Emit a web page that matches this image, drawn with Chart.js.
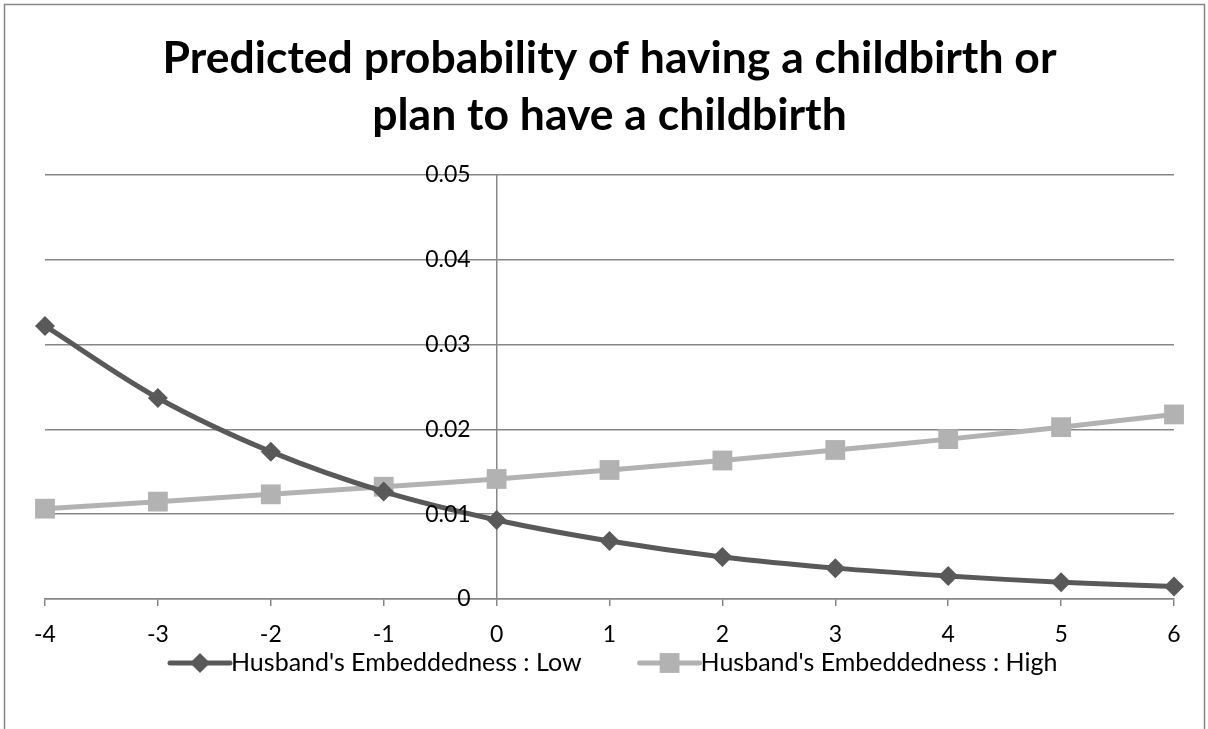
<!DOCTYPE html>
<html>
<head>
<meta charset="utf-8">
<script src="https://cdn.jsdelivr.net/npm/chart.js@4.4.1/dist/chart.umd.min.js"></script>
<style>
  html, body { margin: 0; padding: 0; background: #ffffff; }
  #wrap { width: 1208px; height: 729px; }
</style>
</head>
<body>
<div id="wrap"><canvas id="c" width="1208" height="729"></canvas></div>
<script>
// Predicted probability by centred score (-4 .. 6)
const xValues = [-4, -3, -2, -1, 0, 1, 2, 3, 4, 5, 6];
const xTickLabels = ['-4', '-3', '-2', '-1', '0', '1', '2', '3', '4', '5', '6'];
const yTickLabels = ['0', '0.01', '0.02', '0.03', '0.04', '0.05'];

const lowLabel = "Husband's Embeddedness : Low";
const highLabel = "Husband's Embeddedness : High";

const lowValues  = [0.0322, 0.0237, 0.01737, 0.01266, 0.00932, 0.00684, 0.00495, 0.00364, 0.00271, 0.00197, 0.00147];
const highValues = [0.01065, 0.01148, 0.01234, 0.01324, 0.01415, 0.01521, 0.01633, 0.01757, 0.01885, 0.02026, 0.02176];

const titleLines = ['Predicted probability of having a childbirth or', 'plan to have a childbirth'];

const AXIS_GREY = '#878787';
const LOW_COLOR = '#595959';
const HIGH_COLOR = '#b2b2b2';
const FONT_FAMILY = 'Lato, "Open Sans", sans-serif';

Chart.defaults.font.family = FONT_FAMILY;
Chart.defaults.color = '#000000';

const toPoints = vals => vals.map((v, i) => ({ x: xValues[i], y: v }));

// Outer frame of the chart object
const framePlugin = {
  id: 'frame',
  beforeDraw(chart) {
    const ctx = chart.ctx;
    ctx.save();
    ctx.fillStyle = '#ffffff';
    ctx.fillRect(0, 0, chart.width, chart.height);
    ctx.strokeStyle = AXIS_GREY;
    ctx.lineWidth = 1.5;
    ctx.strokeRect(4.5, 4.5, chart.width - 8, chart.height + 20);
    ctx.restore();
  }
};

// Value labels of the vertical axis, set to the left of the axis line at x = 0
const yLabelPlugin = {
  id: 'yAxisLabels',
  afterDraw(chart) {
    const ctx = chart.ctx;
    const ys = chart.scales.y;
    const axisX = chart.scales.x.getPixelForValue(0);
    ctx.save();
    ctx.font = '23px ' + FONT_FAMILY;
    ctx.fillStyle = '#000000';
    ctx.textAlign = 'right';
    ctx.textBaseline = 'middle';
    ys.ticks.forEach((t, i) => {
      ctx.fillText(yTickLabels[i], axisX - 26, ys.getPixelForValue(t.value));
    });
    ctx.restore();
  }
};

// Legend with a line-and-marker sample in front of each label
const lineLegendPlugin = {
  id: 'lineLegend',
  afterDraw(chart) {
    const ctx = chart.ctx;
    const y = 663;
    const sampleW = 60;
    const gap = 58;
    let x = 170;
    ctx.save();
    ctx.font = '25px ' + FONT_FAMILY;
    ctx.textBaseline = 'middle';
    ctx.textAlign = 'left';
    chart.data.datasets.forEach(ds => {
      ctx.strokeStyle = ds.borderColor;
      ctx.lineWidth = ds.borderWidth;
      ctx.lineCap = 'round';
      ctx.beginPath();
      ctx.moveTo(x, y);
      ctx.lineTo(x + sampleW, y);
      ctx.stroke();
      ctx.fillStyle = ds.pointBackgroundColor;
      ctx.strokeStyle = ds.pointBorderColor;
      Chart.helpers.drawPoint(ctx, {
        pointStyle: ds.pointStyle,
        radius: ds.pointRadius,
        rotation: 0,
        borderWidth: 0
      }, x + sampleW / 2, y);
      ctx.fillStyle = '#000000';
      const tx = x + sampleW + 1;
      ctx.fillText(ds.label, tx, y);
      x = tx + ctx.measureText(ds.label).width + gap;
    });
    ctx.restore();
  }
};

new Chart(document.getElementById('c'), {
  type: 'line',
  data: {
    datasets: [
      {
        label: lowLabel,
        data: toPoints(lowValues),
        borderColor: LOW_COLOR,
        borderWidth: 5,
        tension: 0.33,
        pointStyle: 'rectRot',
        pointRadius: 10,
        pointHoverRadius: 10,
        pointBackgroundColor: LOW_COLOR,
        pointBorderColor: LOW_COLOR,
        pointBorderWidth: 0,
        clip: false
      },
      {
        label: highLabel,
        data: toPoints(highValues),
        borderColor: HIGH_COLOR,
        borderWidth: 5,
        tension: 0.33,
        pointStyle: 'rect',
        pointRadius: 14,
        pointHoverRadius: 14,
        pointBackgroundColor: HIGH_COLOR,
        pointBorderColor: HIGH_COLOR,
        pointBorderWidth: 0,
        clip: false
      }
    ]
  },
  options: {
    responsive: false,
    animation: false,
    events: [],
    layout: { padding: { left: 45, right: 34, top: 1, bottom: 0 } },
    plugins: {
      legend: { display: false },
      tooltip: { enabled: false },
      title: {
        display: true,
        text: titleLines,
        color: '#000000',
        font: { family: FONT_FAMILY, weight: 'bold', size: 44.5, lineHeight: 1.28 },
        padding: { top: 29, bottom: 31 }
      }
    },
    scales: {
      x: {
        type: 'linear',
        min: -4,
        max: 6,
        afterFit(scale) { scale.height = 130; },
        afterBuildTicks(scale) { scale.ticks = xValues.map(v => ({ value: v })); },
        ticks: {
          autoSkip: false,
          maxRotation: 0,
          padding: 15,
          font: { size: 23 },
          color: '#000000',
          callback: (v) => xTickLabels[xValues.indexOf(v)]
        },
        grid: {
          drawOnChartArea: false,
          drawTicks: true,
          tickLength: 7,
          color: AXIS_GREY,
          lineWidth: 1.5
        },
        border: { display: true, color: AXIS_GREY, width: 1.5 }
      },
      y: {
        type: 'linear',
        position: { x: 0 },
        min: 0,
        max: 0.05,
        afterBuildTicks(scale) { scale.ticks = yTickLabels.map(t => ({ value: parseFloat(t) })); },
        ticks: { display: false },
        grid: {
          drawTicks: false,
          color: AXIS_GREY,
          lineWidth: 1.5
        },
        border: { display: true, color: AXIS_GREY, width: 1.5 }
      }
    }
  },
  plugins: [framePlugin, yLabelPlugin, lineLegendPlugin]
});
</script>
</body>
</html>
